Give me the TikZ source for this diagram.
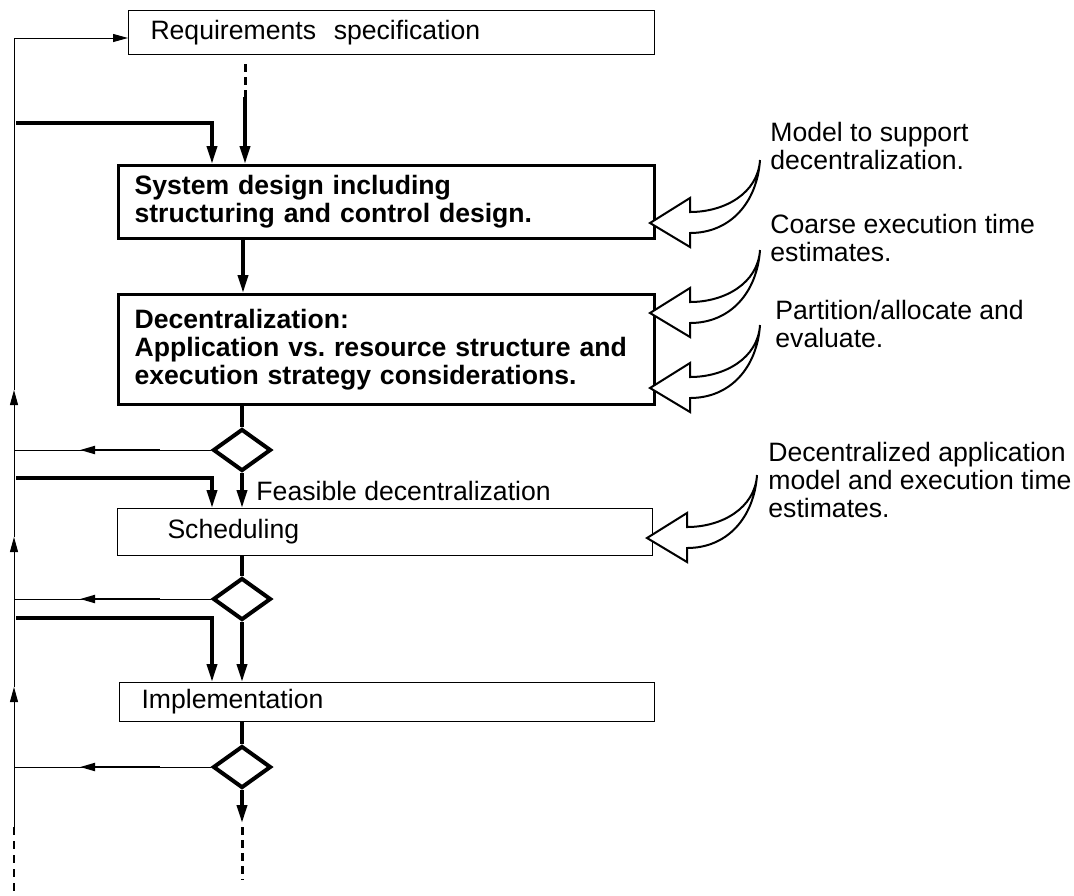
\documentclass[tikz,border=0pt]{standalone}
\usepackage{fontspec}
\setmainfont{Liberation Sans}
\frenchspacing
\usetikzlibrary{arrows.meta,shapes.geometric,positioning}
\newcommand\notefont{\fontsize{13.3}{14}\selectfont}
% hollow curved input arrow, tip at #1
\newcommand\fatarrow[1]{%
  \begin{scope}[shift={(#1)}]
    \draw[fat] (0,0) -- (40,-25) -- (40,-11) .. controls (75,-11) and (108,-30) .. (110,-63)
      .. controls (107,-20) and (80,10) .. (40,10) -- (40,24) -- cycle;
  \end{scope}}

\begin{document}
\begin{tikzpicture}[x=0.5pt, y=-0.5pt,
    box/.style={draw, line width=0.5pt, anchor=north west, align=left, inner ysep=0pt, font=\notefont},
    boldbox/.style={box, line width=1.6pt, font=\notefont\bfseries},
    decision/.style={diamond, draw, line width=2pt, minimum width=29pt, minimum height=21pt, inner sep=0pt},
    flow/.style={line width=1.8pt},
    flowarrow/.style={flow, -{Triangle[length=9pt,width=5pt]}},
    dashline/.style={line width=1.5pt, dash pattern=on 4pt off 2.5pt},
    feed/.style={line width=0.5pt},
    feedarrow/.style={feed, -{Triangle[length=7.5pt,width=4pt]}},
    note/.style={anchor=west, align=left, inner sep=0pt, font=\notefont},
    fat/.style={line width=1pt, line join=miter, fill=white}
  ]
  \useasboundingbox (0,0) rectangle (1074,895);

  % boxes
  \node[box, text width=241pt, inner xsep=11pt, minimum height=22pt] (req) at (128,10) {Requirements\ \ specification};
  \node[boldbox, text width=252pt, inner xsep=8pt, minimum height=36.5pt] (sysdes) at (117,164)
    {System design including\\structuring and control design.};
  \node[boldbox, text width=252pt, inner xsep=8pt, minimum height=55pt] (decent) at (117,293)
    {Decentralization:\\Application vs. resource structure and\\execution strategy considerations.};
  \node[box, text width=217.5pt, inner xsep=25pt, minimum height=23.5pt] (sched) at (117,508) {Scheduling};
  \node[box, text width=245.5pt, inner xsep=11pt, minimum height=19.5pt] (impl) at (119,682) {Implementation};

  \node[decision] (dec1) at (242,450) {};
  \node[decision] (dec2) at (242,599) {};
  \node[decision] (dec3) at (242,767) {};

  \coordinate (axis) at (243,0);
  \coordinate (inx) at (212,0);
  \coordinate (reqdash) at (245,97);
  \coordinate (exitarr) at (242,823);
  \coordinate (exitend) at (242,880);

  % main flow
  \draw[dashline] ([yshift=-4.5pt]req.south -| reqdash) -- (reqdash);
  \draw[flowarrow] (reqdash) -- (reqdash |- sysdes.north);
  \draw[flowarrow] (sysdes.south -| axis) -- (decent.north -| axis);
  \draw[flow] (decent.south -| dec1) -- (dec1.north);
  \draw[flowarrow] (dec1.south) -- node[right=3pt, font=\notefont]{Feasible decentralization} (sched.north -| dec1);
  \draw[flow] (sched.south -| dec2) -- (dec2.north);
  \draw[flowarrow] (dec2.south) -- (impl.north -| dec2);
  \draw[flow] (impl.south -| dec3) -- (dec3.north);
  \draw[flowarrow] (dec3.south) -- (exitarr);
  \draw[dashline] ([yshift=-2pt]exitarr) -- (exitend);

  % re-entry from the feedback bus
  \coordinate (in1) at (16,123);
  \coordinate (in2) at (16,478);
  \coordinate (in3) at (16,618);
  \draw[flowarrow] (in1) -- (in1 -| inx) -- (sysdes.north -| inx);
  \draw[flowarrow] (in2) -- (in2 -| inx) -- (sched.north -| inx);
  \draw[flowarrow] (in3) -- (in3 -| inx) -- (impl.north -| inx);

  % feedback bus
  \coordinate (busA) at (14,827);
  \coordinate (busB) at (14,687);
  \coordinate (busC) at (14,537);
  \coordinate (busD) at (14,390);
  \coordinate (bustop) at (14,38);
  \coordinate (tipcol) at (80,0);
  \coordinate (midcol) at (160,0);
  \draw[feed, line width=1pt, dash pattern=on 4pt off 3pt] (busA) -- (14,895);
  \draw[feedarrow] (busA) -- (busB);
  \draw[feedarrow] (busB) -- (busC);
  \draw[feedarrow] (busC) -- (busD);
  \draw[feed] (busD) -- (bustop);
  \draw[feedarrow] (bustop) -- (bustop -| req.west);

  \foreach \d in {dec1,dec2,dec3}{
    \draw[feed] (\d.west) -- (\d.west -| busA);
    \draw[feedarrow, line width=1pt] (\d.west -| midcol) -- (\d.west -| tipcol);
  }

  % inputs
  \fatarrow{650,223}
  \fatarrow{650,313}
  \fatarrow{650,388}
  \fatarrow{647,538}

  \node[note] (note1) at (770,146) {Model to support\\decentralization.};
  \node[note] (note2) at (770,237.5) {Coarse execution time\\estimates.};
  \node[note] (note3) at (775,324) {Partition/allocate and\\evaluate.};
  \node[note] (note4) at (768,480) {Decentralized application\\model and execution time\\estimates.};
\end{tikzpicture}
\end{document}
